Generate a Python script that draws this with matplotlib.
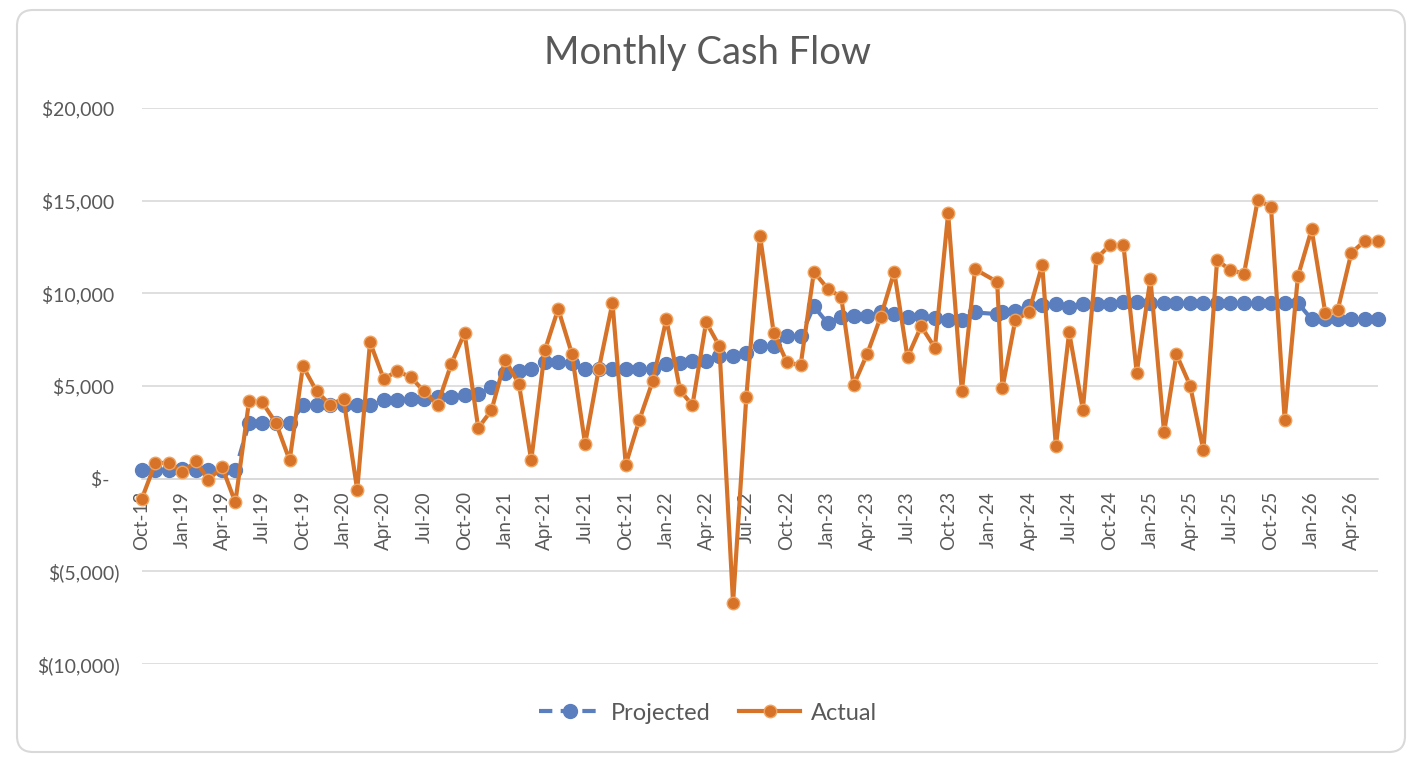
import matplotlib
matplotlib.use("Agg")
import matplotlib.pyplot as plt
import matplotlib.dates as mdates
from matplotlib.patches import FancyBboxPatch
from matplotlib.ticker import FuncFormatter, MultipleLocator
import pandas as pd

# month starts, plus one odd mid-January 2024 entry in the source sheet
dates = (
    list(pd.date_range("2018-10-01", "2023-12-01", freq="MS"))
    + [pd.Timestamp("2024-01-20")]
    + list(pd.date_range("2024-02-01", "2026-06-01", freq="MS"))
)

projected = [
    450, 450, 450, 500, 480, 480, 450, 450,
    3000, 3000, 3000, 3000,
    3950, 3950, 3950, 3950, 3950, 3950,
    4240, 4240, 4310, 4280, 4400, 4400, 4490, 4550, 4970,
    5690, 5810, 5900, 6300, 6300, 6260, 5940, 5940, 5940, 5940, 5940, 5940,
    6170, 6260, 6350, 6350, 6620, 6640, 6770, 7160, 7160, 7700, 7700, 9300,
    8390, 8700, 8790, 8790, 8970, 8880, 8730, 8790, 8650, 8570, 8570, 8970,
    8880,
    9000, 9060, 9300, 9350, 9420, 9280, 9420, 9420, 9420, 9550, 9550,
    9480, 9480, 9480, 9480, 9480, 9480, 9480, 9480, 9480, 9480, 9480, 9480,
    8600, 8600, 8600, 8600, 8600, 8600,
]

actual = [
    -1100, 850, 850, 340, 935, -50, 630, -1280,
    4175, 4120, 3000, 990,
    6065, 4715, 4000, 4300, -600, 7360,
    5380, 5800, 5490, 4715, 4000, 6190, 7865, 2735, 3690,
    6390, 5130, 990, 6930, 9160, 6750, 1870, 5920, 9485, 755, 3185, 5255,
    8620, 4770, 3960, 8440, 7150, -6700, 4410, 13120, 7865, 6280, 6120, 11160,
    10260, 9790, 5040, 6750, 8710, 11160, 6550, 8225, 7055, 14310, 4715, 11300,
    10620,
    4900, 8550, 9000, 11530, 1745, 7900, 3725, 11880, 12600, 12600, 5705,
    10780, 2500, 6700, 5020, 1530, 11790, 11250, 11070, 15030, 14670, 3185, 10920,
    13445, 8945, 9090, 12185, 12815, 12815,
]

TEXT = "#595959"
GRID = "#d9d9d9"
BLUE = "#5b7fbe"
ORANGE = "#d67328"

plt.rcParams["font.family"] = ["Lato", "DejaVu Sans"]

fig = plt.figure(figsize=(14.16, 7.66), dpi=100)
ax = fig.add_axes([141.7 / 1416, 1 - 664 / 766, (1378.3 - 141.7) / 1416, (664 - 108) / 766])

ax.plot(dates, projected, color=BLUE, lw=3, dashes=(3.2, 2.0), marker="o",
        markersize=10, markerfacecolor=BLUE, markeredgecolor=BLUE, label="Projected",
        zorder=3, clip_on=False)
ax.plot(dates, actual, color=ORANGE, lw=3, marker="o", markersize=9,
        markerfacecolor=ORANGE, markeredgecolor="#f0a35e", markeredgewidth=1.0,
        label="Actual", zorder=4, clip_on=False)

ax.set_ylim(-10000, 20000)
ax.set_xlim(pd.Timestamp("2018-10-01"), pd.Timestamp("2026-06-01"))
ax.yaxis.set_major_locator(MultipleLocator(5000))


def money(v, pos):
    if v == 0:
        return "$-  "
    if v < 0:
        return f"$({abs(v):,.0f})"
    return f"${v:,.0f} "


ax.yaxis.set_major_formatter(FuncFormatter(money))
ax.xaxis.set_major_locator(mdates.MonthLocator(bymonth=[1, 4, 7, 10]))
ax.xaxis.set_major_formatter(mdates.DateFormatter("%b-%y"))

ax.grid(axis="y", color=GRID, lw=1.2)
ax.set_axisbelow(True)
for side in ("top", "right", "left"):
    ax.spines[side].set_visible(False)
ax.spines["bottom"].set_position(("data", 0))
ax.spines["bottom"].set_color(GRID)
ax.spines["bottom"].set_linewidth(1.2)
ax.tick_params(axis="y", length=0, pad=16, labelsize=14, labelcolor=TEXT)
ax.tick_params(axis="x", length=0, pad=9, labelsize=13.5, labelcolor=TEXT, labelrotation=90)

fig.text(0.5, 1 - 53 / 766, "Monthly Cash Flow", ha="center", va="center",
         fontsize=27.5, color=TEXT)

fig.legend(loc="center", bbox_to_anchor=(0.5, 1 - 713 / 766), ncol=2, frameon=False,
           fontsize=17, labelcolor=TEXT, handlelength=2.6, handletextpad=0.45,
           columnspacing=1.2)

fig.add_artist(FancyBboxPatch((0.17, 0.14), 13.88, 7.42,
                              boxstyle="round,pad=0,rounding_size=0.16",
                              transform=fig.dpi_scale_trans, facecolor="none",
                              edgecolor=GRID, lw=1.5))

fig.savefig("out.png", dpi=100)
